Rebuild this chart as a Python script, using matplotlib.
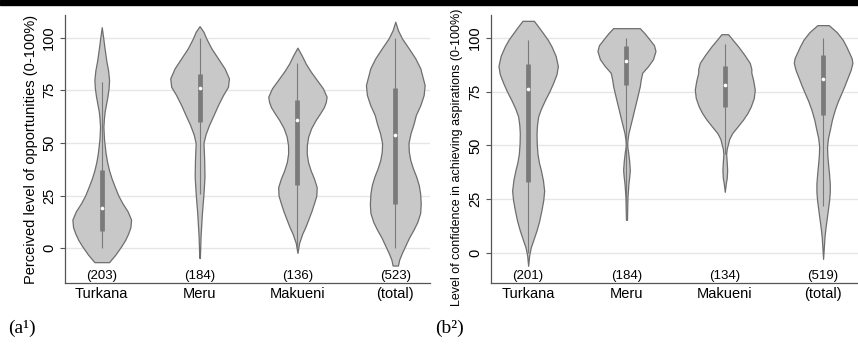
import numpy as np
import matplotlib
matplotlib.use('Agg')
import matplotlib.pyplot as plt
from matplotlib.patches import Rectangle

# Categories
REGIONS = ['Turkana', 'Meru', 'Makueni', '(total)']

# (a) perceived level of opportunities
OPP_COUNTS = [203, 184, 136, 523]
OPP_MEDIAN = [19, 76, 61, 54]
OPP_Q1 = [8, 60, 30, 21]
OPP_Q3 = [37, 83, 70.5, 76]
OPP_LOW = [0, 26, 0, 0]
OPP_HIGH = [79, 100, 88, 100]

# violin outlines: score and half width (% of category spacing)
OPP_TURKANA_Y = [-6.6, -3, 1, 4, 7, 10, 13.6, 17.5, 21.5, 25, 29, 33, 37,
                 41, 45, 52, 57.7, 62, 65, 72, 76, 80, 84.5, 89, 95.6, 100,
                 105]
OPP_TURKANA_W = [7.5, 14, 20, 24, 27, 29.3, 30, 26.5, 21, 17, 13.5, 10.2,
                 7.5, 5.5, 4, 2.3, 1.7, 2.3, 3, 5.8, 7, 7.5, 6.5, 4.7, 2.7,
                 1.5, 0]
OPP_MERU_Y = [-4.6, 5.7, 16.7, 26, 34, 42, 50, 54, 58.5, 63.3, 68, 72.8,
              76.7, 80.7, 85.4, 90.2, 95, 99.7, 102.8, 105.5]
OPP_MERU_W = [0.3, 1, 2.4, 4, 5, 4.7, 4, 6, 9.6, 14.3, 18.8, 24, 29, 30,
              25.6, 18.8, 12, 6.8, 4, 0]
OPP_MAKUENI_Y = [-2.2, 2.5, 7, 10, 13.6, 17.5, 21.5, 25, 29, 33, 37, 41, 45,
                 49, 53, 57, 60.9, 64, 67, 69.5, 72, 76, 80, 84, 87.7, 91.5,
                 95.3]
OPP_MAKUENI_W = [0, 1.7, 5, 8, 11, 14.2, 17, 19.3, 19.7, 17, 13.5, 10.8,
                 9.5, 9.6, 11, 14, 18.6, 23, 27, 29, 29.8, 26, 19.7, 13.5,
                 8.5, 4.5, 0]
OPP_TOTAL_Y = [-8.2, -5.4, -2.5, 1, 5, 8.8, 12.5, 16.7, 21, 26, 30, 34, 38,
               42, 46, 50, 54.5, 59, 63.3, 68, 72.8, 77.5, 85.4, 90.2, 95,
               99.7, 103.6, 107.6]
OPP_TOTAL_W = [2.7, 4, 6.5, 10, 14, 18.6, 22.5, 25.4, 26, 25.4, 24, 21.4,
               18, 15.3, 13.8, 13.5, 15.5, 18.6, 21, 25.6, 29, 30, 25.6,
               20.5, 13.7, 6.8, 2.7, 0]

# (b) confidence in achieving aspirations
ASP_COUNTS = [201, 184, 134, 519]
ASP_MEDIAN = [76, 89, 78, 81]
ASP_Q1 = [33, 78, 68, 64]
ASP_Q3 = [88, 96, 87, 92]
ASP_LOW = [0, 16, 46, 22]
ASP_HIGH = [99, 100, 97, 100]

ASP_TURKANA_Y = [-5.8, -1, 2.8, 6.5, 10.6, 15, 20, 24.5, 29, 34, 38.6, 42,
                 46, 51, 55.7, 59.5, 63.5, 67, 71, 75, 79, 83, 86.8, 91.5,
                 96, 99, 102, 105, 107.8]
ASP_TURKANA_W = [0, 1, 2.7, 5.5, 8.5, 11.2, 13.5, 15.3, 16.3, 15, 12.9, 11,
                 9.5, 8.7, 8.5, 9, 10.2, 13, 17, 21.5, 25.4, 28.8, 30.2, 28,
                 23.7, 20, 15.3, 10.5, 5.8]
ASP_MERU_Y = [15.5, 26, 32.3, 35.5, 38.6, 43, 46.5, 50, 52.5, 55.7, 58.5, 62,
              66, 69.7, 73.5, 77.4, 80.5, 83.7, 86.8, 90, 93.8, 96.5, 99,
              102, 104.4]
ASP_MERU_W = [0.5, 1, 2, 2.8, 3.4, 2.7, 1.8, 0.7, 1, 2, 3.5, 5.4, 7.5, 9.5,
              11.5, 13.5, 14.5, 16, 22, 27, 29.5, 28, 23.7, 18.5, 13.5]
ASP_MAKUENI_Y = [28.5, 32.3, 35, 38.6, 42, 46, 48.5, 51, 53, 55.7, 58.5, 62,
                 65, 68, 72, 75.9, 80, 83.7, 85.5, 88.3, 92, 96, 99, 101.6]
ASP_MAKUENI_W = [0, 1, 2, 2.4, 2, 1.4, 2, 3.4, 4.5, 7.5, 12.5, 18.6, 23,
                 26.4, 29.5, 30.5, 29, 27, 27, 25.4, 20, 13.5, 8, 3.4]
ASP_TOTAL_Y = [-2.6, 2.5, 7.5, 11, 15.2, 20, 24.6, 28.5, 32.3, 37, 41.7,
               45.5, 49.5, 53.5, 57.2, 62, 66.6, 70.5, 74.3, 78, 82, 85,
               88.3, 90.5, 93, 96, 99, 102.5, 105.8]
ASP_TOTAL_W = [0, 0.7, 1.4, 2.2, 3.4, 4.8, 6.1, 6.8, 6.8, 6, 5, 4.3, 4, 5,
               6.8, 9, 11.9, 15, 18.6, 22, 25.4, 28, 29.8, 29, 26.5, 23.5,
               20, 14, 5.8]

YTICKS = [0, 25, 50, 75, 100]

FILL = '#c8c8c8'
EDGE = '#6e6e6e'
BOX = '#7a7a7a'


def make_stats(ys, ws, med, lo, hi):
    '''
    Builds the stats dict that Axes.violin wants from an outline read off
    the picture.
    '''
    return {'coords': np.array(ys, dtype=float),
            'vals': np.array(ws, dtype=float),
            'mean': med, 'median': med, 'min': lo, 'max': hi}


def draw_panel(ax, outlines, counts, med, q1, q3, lo, hi, ylim, ylabel,
               label_size, label_xy):
    '''
    Draws one violin panel with boxes, medians and counts.
    '''
    pos = np.arange(1, len(REGIONS) + 1)
    stats = [make_stats(ys, ws, m, a, b)
             for (ys, ws), m, a, b in zip(outlines, med, lo, hi)]
    widths = [2 * max(ws) / 100 for ys, ws in outlines]

    parts = ax.violin(stats, positions=pos, widths=widths, showmeans=False,
                      showextrema=False, showmedians=False)
    for body in parts['bodies']:
        body.set_facecolor(FILL)
        body.set_edgecolor(EDGE)
        body.set_alpha(1)
        body.set_linewidth(0.9)
        body.set_zorder(2)

    ax.vlines(pos, lo, hi, color=BOX, lw=0.8, zorder=3)
    ax.vlines(pos, q1, q3, color=BOX, lw=3.4, zorder=4, capstyle='butt')
    ax.scatter(pos, med, s=7, color='white', zorder=5, linewidths=0)

    for p, n in zip(pos, counts):
        ax.text(p, 0.004, '({})'.format(n), ha='center', va='bottom',
                fontsize=9.5, transform=ax.get_xaxis_transform())

    ax.set_xlim(0.625, 4.355)
    ax.set_ylim(*ylim)
    ax.set_xticks(pos)
    ax.set_xticklabels(REGIONS, fontsize=10.5)
    ax.set_yticks(YTICKS)
    ax.set_yticklabels([str(t) for t in YTICKS], rotation=90, va='center',
                       fontsize=10.5)
    ax.tick_params(axis='x', length=0, pad=3)
    ax.tick_params(axis='y', length=3.5, width=0.8, color='#555555', pad=3)
    ax.set_ylabel(ylabel, fontsize=label_size)
    ax.yaxis.set_label_coords(*label_xy)

    ax.set_axisbelow(True)
    ax.yaxis.grid(True, color='#e6e6e6', lw=1)
    for side in ['top', 'right']:
        ax.spines[side].set_visible(False)
    for side in ['left', 'bottom']:
        ax.spines[side].set_color('#555555')
        ax.spines[side].set_linewidth(0.9)


def main():
    plt.rcParams['font.family'] = ['Liberation Sans', 'DejaVu Sans']
    fig = plt.figure(figsize=(8.58, 3.45), dpi=100)

    ax1 = fig.add_axes([0.0758, 0.1797, 0.4254, 0.7768])
    ax2 = fig.add_axes([0.5726, 0.1790, 0.4274, 0.7775])

    opp = [(OPP_TURKANA_Y, OPP_TURKANA_W), (OPP_MERU_Y, OPP_MERU_W),
           (OPP_MAKUENI_Y, OPP_MAKUENI_W), (OPP_TOTAL_Y, OPP_TOTAL_W)]
    asp = [(ASP_TURKANA_Y, ASP_TURKANA_W), (ASP_MERU_Y, ASP_MERU_W),
           (ASP_MAKUENI_Y, ASP_MAKUENI_W), (ASP_TOTAL_Y, ASP_TOTAL_W)]

    draw_panel(ax1, opp, OPP_COUNTS, OPP_MEDIAN, OPP_Q1, OPP_Q3, OPP_LOW,
               OPP_HIGH, (-16.5, 110.8),
               'Perceived level of opportunities (0-100%)', 10.5,
               (-0.075, 0.5))
    draw_panel(ax2, asp, ASP_COUNTS, ASP_MEDIAN, ASP_Q1, ASP_Q3, ASP_LOW,
               ASP_HIGH, (-13.9, 110.5),
               'Level of confidence in achieving aspirations (0-100%)', 9,
               (-0.077, 0.47))

    # black rule along the top edge
    fig.add_artist(Rectangle((0, 1 - 5 / 345), 1, 5 / 345, color='black',
                             transform=fig.transFigure))

    fig.text(0.009, 0.049, '(a\u00b9)', family='Liberation Serif',
             fontsize=14, va='center')
    fig.text(0.507, 0.049, '(b\u00b2)', family='Liberation Serif',
             fontsize=14, va='center')

    fig.savefig('out.png', dpi=100)


if __name__ == '__main__':
    main()
